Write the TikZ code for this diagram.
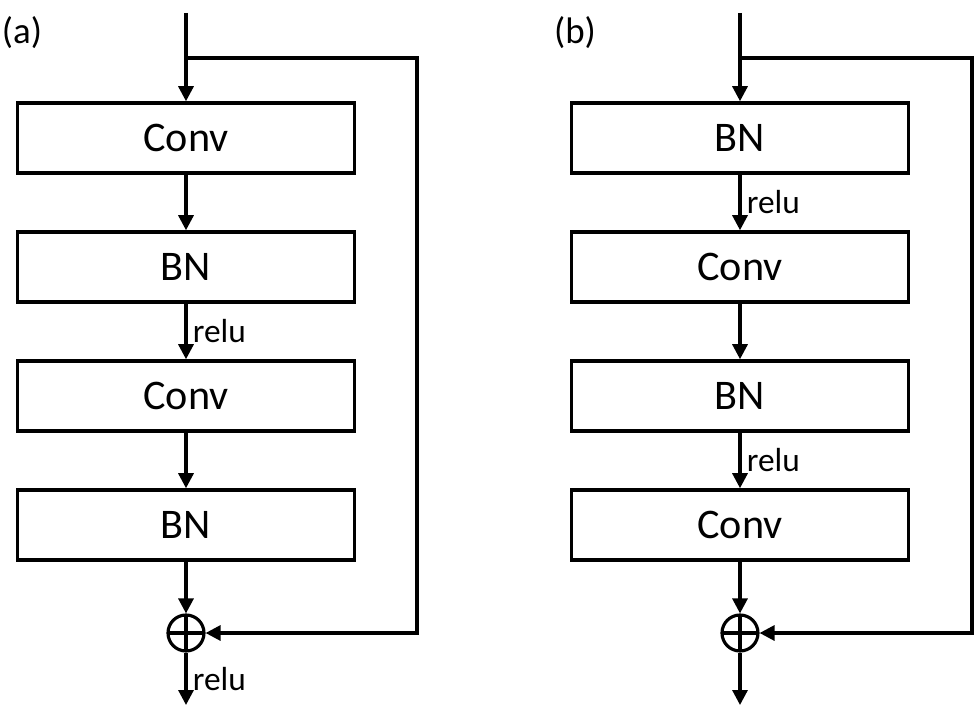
\documentclass[tikz,border=0pt]{standalone}
\usepackage{fontspec}
\setmainfont{Carlito}
\usetikzlibrary{arrows.meta}

\begin{document}
\begin{tikzpicture}[
		block/.style={draw,line width=2pt,minimum width=6.74cm,minimum height=1.4cm,font=\fontsize{24}{28}\selectfont},
		sum/.style={draw,circle,line width=1.8pt,minimum size=0.72cm,inner sep=0pt,
			path picture={\draw[line width=1.8pt] (path picture bounding box.north) -- (path picture bounding box.south)
				(path picture bounding box.west) -- (path picture bounding box.east);}},
		flow/.style={-{Triangle[width=0.3cm,length=0.3cm]},line width=1.8pt},
		tag/.style={right,inner sep=3pt,font=\fontsize{19}{22}\selectfont},
		panel/.style={font=\fontsize{21}{25}\selectfont}
		]
		\useasboundingbox (0,0) rectangle (19.54,-14.26);

		% (a): post-activation
		\node[panel] (label a) at (0.44,-0.66) {(a)};
		\path (3.72,-2.76) node[block] (conv a1) {Conv}
		 ++(0,-2.58) node[block] (bn a1) {BN}
		 ++(0,-2.58) node[block] (conv a2) {Conv}
		 ++(0,-2.58) node[block] (bn a2) {BN}
		 ++(0,-2.16) node[sum] (sum a) {};
		\coordinate (in a) at (3.72,-0.26);
		\coordinate (split a) at (3.72,-1.16);
		\coordinate (out a) at (3.72,-14.1);

		\draw[flow] (in a) -- (conv a1);
		\draw[flow] (conv a1) -- (bn a1);
		\draw[flow] (bn a1) -- node[tag] {relu} (conv a2);
		\draw[flow] (conv a2) -- (bn a2);
		\draw[flow] (bn a2) -- (sum a);
		\draw[flow] (split a) -- ++(4.62,0) |- (sum a.east);
		\draw[flow] (sum a) -- node[tag] {relu} (out a);

		% (b): pre-activation
		\node[panel] (label b) at (11.5,-0.66) {(b)};
		\path (14.8,-2.76) node[block] (bn b1) {BN}
		 ++(0,-2.58) node[block] (conv b1) {Conv}
		 ++(0,-2.58) node[block] (bn b2) {BN}
		 ++(0,-2.58) node[block] (conv b2) {Conv}
		 ++(0,-2.16) node[sum] (sum b) {};
		\coordinate (in b) at (14.8,-0.26);
		\coordinate (split b) at (14.8,-1.16);
		\coordinate (out b) at (14.8,-14.1);

		\draw[flow] (in b) -- (bn b1);
		\draw[flow] (bn b1) -- node[tag] {relu} (conv b1);
		\draw[flow] (conv b1) -- (bn b2);
		\draw[flow] (bn b2) -- node[tag] {relu} (conv b2);
		\draw[flow] (conv b2) -- (sum b);
		\draw[flow] (split b) -- ++(4.64,0) |- (sum b.east);
		\draw[flow] (sum b) -- (out b);

	\end{tikzpicture}
\end{document}
